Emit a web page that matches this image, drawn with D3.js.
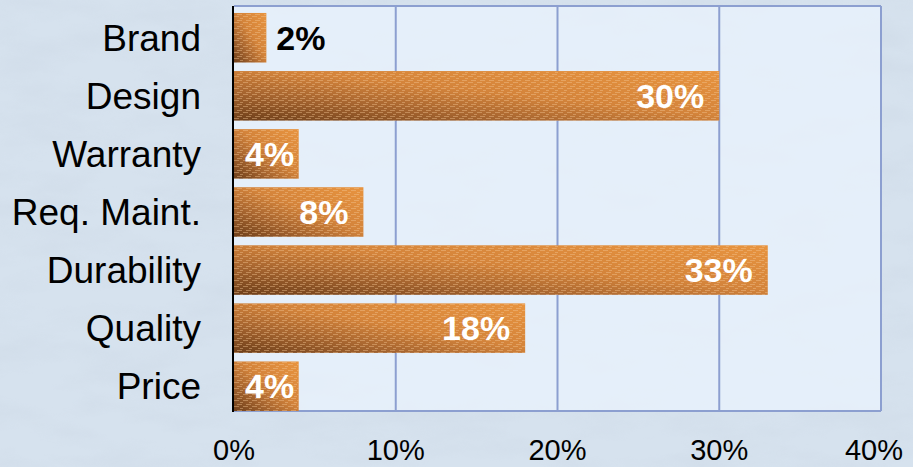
<!DOCTYPE html>
<html>
<head>
<meta charset="utf-8">
<script src="https://cdn.jsdelivr.net/npm/d3@7"></script>
<style>
  html, body { margin: 0; padding: 0; background: #d8e4f0; }
  svg { display: block; font-family: "Liberation Sans", Arial, sans-serif; }
</style>
</head>
<body>
<svg id="chart" width="913" height="467"></svg>
<script>
// Survey: most important factor when buying
const categories = ["Brand", "Design", "Warranty", "Req. Maint.", "Durability", "Quality", "Price"];
const values = [2, 30, 4, 8, 33, 18, 4];
const tickValues = [0, 10, 20, 30, 40];
const tickLabels = ["0%", "10%", "20%", "30%", "40%"];

const W = 913, H = 467;
const plot = { left: 234, right: 881, top: 6, bottom: 411 };

const svg = d3.select("#chart");
const defs = svg.append("defs");

// Marbled paper texture for the backdrop
const tex = defs.append("filter").attr("id", "paper")
  .attr("x", 0).attr("y", 0).attr("width", "100%").attr("height", "100%");
tex.append("feTurbulence").attr("type", "fractalNoise")
  .attr("baseFrequency", "0.012 0.035").attr("numOctaves", 4).attr("seed", 7).attr("result", "n");
tex.append("feColorMatrix").attr("in", "n").attr("type", "matrix")
  .attr("values", "0 0 0 0 0.55  0 0 0 0 0.62  0 0 0 0 0.72  1.4 0 0 0 -0.55");

// Bar shading: dark bottom-left to bright orange top-right
const grad = defs.append("linearGradient").attr("id", "barGrad")
  .attr("x1", 0).attr("y1", 1).attr("x2", 1).attr("y2", 0);
[[0, "#6e3f1a"], [0.3, "#a86630"], [0.55, "#d4843b"], [1, "#e8943f"]].forEach(([o, c]) =>
  grad.append("stop").attr("offset", o).attr("stop-color", c));

// Fine diagonal dash hatching on the bars
const pat = defs.append("pattern").attr("id", "hatch")
  .attr("patternUnits", "userSpaceOnUse").attr("width", 9).attr("height", 6);
[[6, 0], [3, 2], [0, 4]].forEach(([x, y]) =>
  pat.append("rect").attr("x", x).attr("y", y).attr("width", 5).attr("height", 1)
    .attr("fill", "#f3c594").attr("opacity", 0.42));

// Background
svg.append("rect").attr("width", W).attr("height", H).attr("fill", "#d6e2ee");
svg.append("rect").attr("width", W).attr("height", H).attr("filter", "url(#paper)").attr("opacity", 0.35);

// Scales
const x = d3.scaleLinear().domain([0, 40]).range([plot.left, plot.right]);
const y = d3.scaleBand().domain(categories).range([plot.top, plot.bottom])
  .paddingInner(0.147).paddingOuter(0.06).align(1);

// Plot area
svg.append("rect")
  .attr("x", plot.left).attr("y", plot.top)
  .attr("width", plot.right - plot.left).attr("height", plot.bottom - plot.top)
  .attr("fill", "#e7f1fb").attr("fill-opacity", 0.85);

// Vertical gridlines
svg.append("g").selectAll("line").data(tickValues.slice(1)).join("line")
  .attr("x1", d => x(d)).attr("x2", d => x(d))
  .attr("y1", plot.top).attr("y2", plot.bottom)
  .attr("stroke", "#8c9fd0").attr("stroke-width", 2);

// Plot frame (top and bottom edges)
svg.append("line").attr("x1", plot.left).attr("x2", plot.right)
  .attr("y1", plot.top).attr("y2", plot.top).attr("stroke", "#8c9fd0").attr("stroke-width", 2);
svg.append("line").attr("x1", plot.left).attr("x2", plot.right)
  .attr("y1", plot.bottom).attr("y2", plot.bottom).attr("stroke", "#8c9fd0").attr("stroke-width", 2);

// Bars
const bars = svg.append("g");
bars.selectAll("rect.bar").data(categories).join("rect").attr("class", "bar")
  .attr("x", x(0)).attr("y", d => y(d))
  .attr("width", (d, i) => x(values[i]) - x(0)).attr("height", y.bandwidth())
  .attr("fill", "url(#barGrad)");
bars.selectAll("rect.hatch").data(categories).join("rect").attr("class", "hatch")
  .attr("x", x(0)).attr("y", d => y(d))
  .attr("width", (d, i) => x(values[i]) - x(0)).attr("height", y.bandwidth())
  .attr("fill", "url(#hatch)");

// Category axis line
svg.append("line").attr("x1", plot.left - 1).attr("x2", plot.left - 1)
  .attr("y1", plot.top).attr("y2", plot.bottom + 1)
  .attr("stroke", "#000").attr("stroke-width", 2);

// Category labels
svg.append("g").selectAll("text").data(categories).join("text")
  .attr("x", 201).attr("y", d => y(d) + y.bandwidth() / 2 + 13)
  .attr("text-anchor", "end").attr("font-size", 37).attr("fill", "#000")
  .text(d => d);

// Value labels: inside the bar end when they fit, otherwise just past the bar
const vl = svg.append("g").selectAll("text").data(categories).join("text")
  .attr("font-size", 34).attr("font-weight", "bold")
  .attr("y", d => y(d) + y.bandwidth() / 2 + 12)
  .text((d, i) => values[i] + "%");
vl.each(function (d, i) {
  const t = d3.select(this);
  const w = this.getComputedTextLength();
  const end = x(values[i]);
  if (end - x(0) < w + 8) {
    t.attr("x", end + 10).attr("text-anchor", "start").attr("fill", "#000");
  } else {
    const right = Math.max(end - 15, x(0) + 11 + w);
    t.attr("x", right).attr("text-anchor", "end").attr("fill", "#fff");
  }
});

// Value axis tick labels
const tl = svg.append("g").selectAll("text").data(tickValues).join("text")
  .attr("y", 460).attr("font-size", 29).attr("fill", "#000")
  .attr("text-anchor", "middle")
  .text((d, i) => tickLabels[i]);
tl.each(function (d) {
  const w = this.getComputedTextLength();
  const cx = Math.min(x(d), W - 10 - w / 2);
  d3.select(this).attr("x", cx);
});
</script>
</body>
</html>
